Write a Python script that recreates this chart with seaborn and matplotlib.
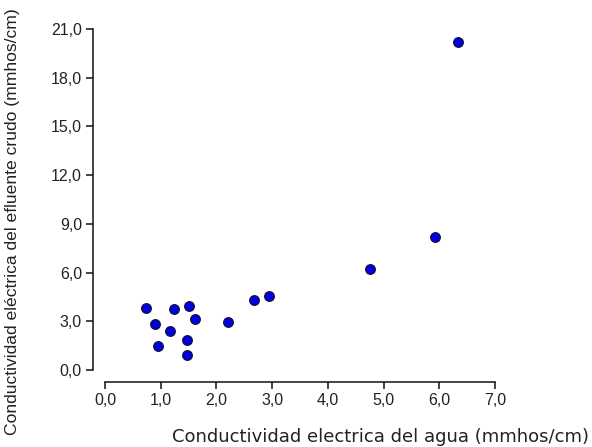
import matplotlib
matplotlib.use("Agg")
import matplotlib.pyplot as plt
import seaborn as sns
import pandas as pd

# Conductividad eléctrica: agua vs. efluente crudo (mmhos/cm)
agua = [0.73, 1.23, 1.51, 0.89, 1.62, 1.17, 0.96, 1.48, 1.48, 2.20, 2.67, 2.95, 4.76, 5.92, 6.33]
efluente = [3.84, 3.74, 3.94, 2.83, 3.12, 2.42, 1.50, 1.83, 0.92, 2.94, 4.33, 4.54, 6.24, 8.19, 20.18]

x_ticks = [0, 1, 2, 3, 4, 5, 6, 7]
y_ticks = [0, 3, 6, 9, 12, 15, 18, 21]
x_ticklabels = ["0,0", "1,0", "2,0", "3,0", "4,0", "5,0", "6,0", "7,0"]
y_ticklabels = ["0,0", "3,0", "6,0", "9,0", "12,0", "15,0", "18,0", "21,0"]

df = pd.DataFrame({"agua": agua, "efluente": efluente})

sns.set_theme(style="ticks")
plt.rcParams["font.family"] = ["Liberation Sans", "DejaVu Sans"]

W, H = 592, 447
fig = plt.figure(figsize=(W / 100, H / 100), dpi=100)
ax = fig.add_axes([105 / W, 1 - 370 / H, 390 / W, 341 / H])

sns.scatterplot(data=df, x="agua", y="efluente", ax=ax, color="#0000E6",
                edgecolor="#101030", linewidth=0.9, s=48, clip_on=False, zorder=3)

ax.set_xlim(0, 7)
ax.set_ylim(0, 21)
ax.set_xticks(x_ticks)
ax.set_xticklabels(x_ticklabels)
ax.set_yticks(y_ticks)
ax.set_yticklabels(y_ticklabels)

sns.despine(ax=ax, offset=8.6)
for side in ("left", "bottom"):
    ax.spines[side].set_linewidth(1.1)
    ax.spines[side].set_color("#111111")

ax.tick_params(axis="both", direction="out", length=5, width=1.1, color="#111111",
               labelsize=11.5, labelcolor="#222222", pad=3)

ax.set_xlabel("")
ax.set_ylabel("")
fig.text(380 / W, 1 - 437 / H, "Conductividad electrica del agua (mmhos/cm)",
         ha="center", va="center", fontsize=13, color="#222222",
         family=["DejaVu Sans"])
fig.text(13 / W, 1 - 222 / H, "Conductividad eléctrica del efluente crudo (mmhos/cm)",
         ha="center", va="center", rotation=90, fontsize=12.6, color="#222222")

fig.savefig("out.png", dpi=100, facecolor="white")
